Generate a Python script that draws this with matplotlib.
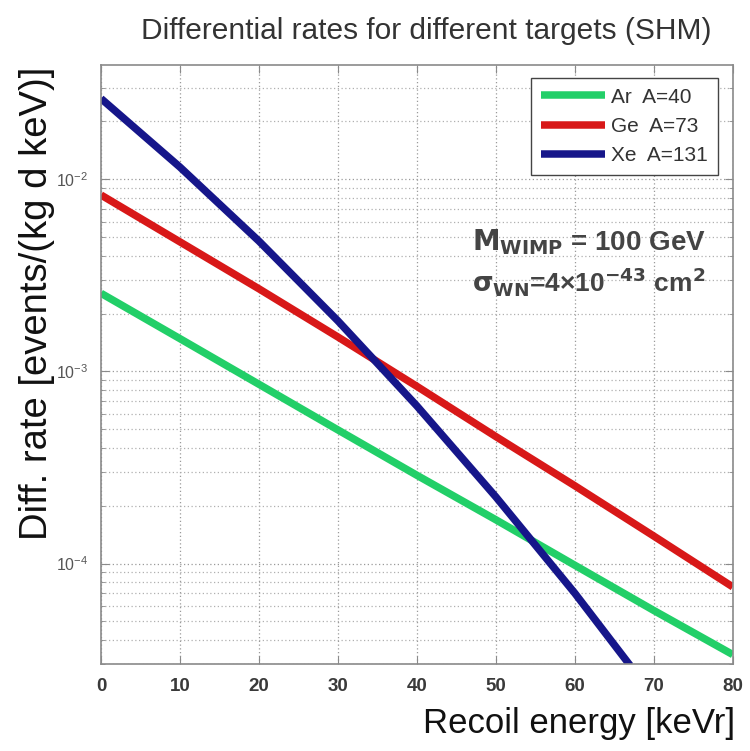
import matplotlib
matplotlib.use('Agg')
import matplotlib.pyplot as plt
from matplotlib.ticker import LogLocator, NullFormatter

# recoil energy grid (keVr) and differential rates (events/(kg d keV))
energy = [0, 10, 20, 30, 40, 50, 60, 70, 80]
rate_ar = [2.55e-3, 1.48e-3, 8.57e-4, 4.96e-4, 2.88e-4, 1.69e-4, 9.8e-5, 5.7e-5, 3.36e-5]
rate_ge = [8.28e-3, 4.72e-3, 2.69e-3, 1.51e-3, 8.36e-4, 4.58e-4, 2.54e-4, 1.39e-4, 7.56e-5]
energy_xe = [0, 10, 20, 30, 40, 50, 60, 67]
rate_xe = [2.63e-2, 1.156e-2, 4.764e-3, 1.832e-3, 6.61e-4, 2.223e-4, 7.01e-5, 2.95e-5]

labels = ['Ar  A=40', 'Ge  A=73', 'Xe  A=131']
colors = ['#22cf68', '#d81818', '#16168a']

narrow = ['Liberation Sans Narrow', 'Liberation Sans', 'DejaVu Sans']
plt.rcParams['font.family'] = ['Liberation Sans', 'DejaVu Sans']

fig = plt.figure(figsize=(7.5, 7.51), dpi=100)
ax = fig.add_axes([0.1347, 0.1158, 0.8423, 0.7976])

ax.plot(energy, rate_ar, color=colors[0], lw=5.4, label=labels[0], solid_capstyle='butt')
ax.plot(energy, rate_ge, color=colors[1], lw=5.4, label=labels[1], solid_capstyle='butt')
ax.plot(energy_xe, rate_xe, color=colors[2], lw=5.4, label=labels[2], solid_capstyle='butt')

ax.set_yscale('log')
ax.set_xlim(0, 80)
ax.set_ylim(3e-5, 3.93e-2)
ax.set_xticks(range(0, 81, 10))
ax.yaxis.set_major_locator(LogLocator(base=10, numticks=10))
ax.yaxis.set_minor_locator(LogLocator(base=10, subs=range(2, 10), numticks=20))
ax.yaxis.set_minor_formatter(NullFormatter())

ax.grid(True, which='major', ls=(0, (1, 2)), color='#9a9a9a', lw=0.9)
ax.grid(True, which='minor', axis='y', ls=(0, (1, 2)), color='#b0b0b0', lw=0.9)

for s in ax.spines.values():
    s.set_color('#8a8a8a')
    s.set_linewidth(1.2)
ax.tick_params(which='both', direction='in', top=True, right=True, color='#8a8a8a')
ax.tick_params(which='major', length=6)
ax.tick_params(which='minor', length=3)
ax.tick_params(axis='x', labelsize=13.5, labelcolor='#3a3a3a', pad=10)
ax.tick_params(axis='y', labelsize=11.5, labelcolor='#555555', pad=9)
for t in ax.get_xticklabels():
    t.set_fontweight('bold')

# axis titles placed in figure coordinates
fig.text(0.98, 0.036, 'Recoil energy [keVr]', ha='right', va='center',
         fontsize=25, color='#111111')
fig.text(0.049, 0.596, 'Diff. rate [events/(kg d keV)]', ha='center', va='center',
         rotation=90, fontsize=27.5, color='#111111')

fig.text(0.568, 0.959, 'Differential rates for different targets (SHM)',
         ha='center', va='center', fontsize=21.5, color='#333333', family=narrow)

leg = ax.legend(loc='upper right', bbox_to_anchor=(0.976, 0.978),
                borderaxespad=0, handlelength=3.1, handletextpad=0.3,
                borderpad=0.45, labelspacing=0.5, fancybox=False, framealpha=1,
                prop={'family': narrow, 'size': 15})
leg.get_frame().set_edgecolor('#444444')
leg.get_frame().set_linewidth(1.0)
for t in leg.get_texts():
    t.set_color('#333333')

ax.text(0.957, 0.705, r'$\mathbf{M_{WIMP}}$ = 100 GeV', transform=ax.transAxes,
        ha='right', va='center', fontsize=20, fontweight='bold', color='#444444')
ax.text(0.957, 0.638, r'$\mathbf{\sigma_{WN}}$=4×10$^{\mathbf{-43}}$ cm$^{\mathbf{2}}$',
        transform=ax.transAxes, ha='right', va='center', fontsize=19,
        fontweight='bold', color='#444444')

fig.savefig('out.png', dpi=100)
